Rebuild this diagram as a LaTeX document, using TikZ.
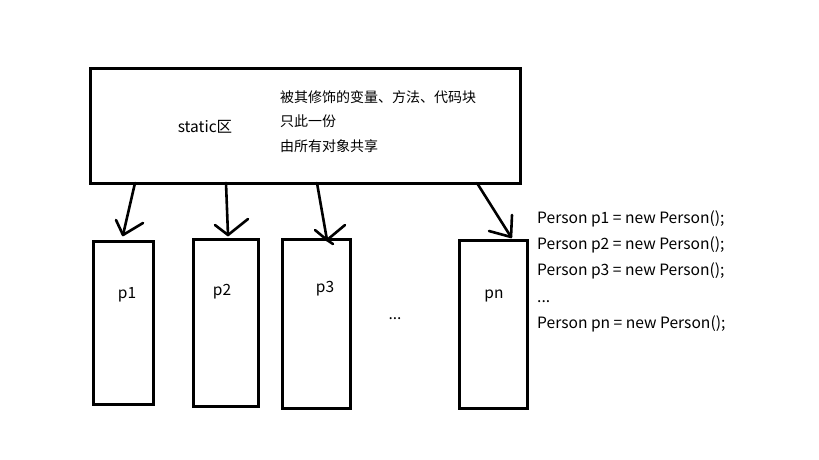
\documentclass[tikz,border=0pt]{standalone}
\usepackage{fontspec}
\setmainfont{Noto Sans CJK SC}
\begin{document}
\begin{tikzpicture}[x=1pt,y=-1pt,
  box/.style={draw=black,line width=3pt,inner sep=0pt,outer sep=0pt},
  conn/.style={line width=2.6pt,line cap=round,line join=round},
  lbl/.style={inner sep=0pt,font=\fontsize{14}{16}\selectfont},
  big/.style={inner sep=0pt,font=\fontsize{15.5}{17}\selectfont},
  code/.style={inner sep=0pt,anchor=base west,font=\fontsize{15.6}{17}\selectfont}]
\useasboundingbox (0,0) rectangle (819,460);
\fill[white] (0,0) rectangle (819,460);

% static area
\node[box,minimum width=430pt,minimum height=114pt] (static) at (305,126) {};
\node[big] (slabel) at (205,127) {static区};
\node[lbl,anchor=west] (n1) at (280,97) {被其修饰的变量、方法、代码块};
\node[lbl,anchor=west] (n2) at (280,121) {只此一份};
\node[lbl,anchor=west] (n3) at (280,146) {由所有对象共享};

% objects
\node[box,minimum width=60pt,minimum height=163pt] (p1) at (123,322.5) {};
\node[box,minimum width=65pt,minimum height=167pt] (p2) at (226,323) {};
\node[box,minimum width=68pt,minimum height=169pt] (p3) at (316.3,324) {};
\node[box,minimum width=68pt,minimum height=168pt] (pn) at (493,324.3) {};
\node[big] (l1) at (127,295) {p1};
\node[big] (l2) at (222,292) {p2};
\node[big] (l3) at (325,289) {p3};
\node[big] (ln) at (494,296) {pn};
\node[big,anchor=base] (dots) at (395,319) {...};

% references from the static area
\coordinate (s1) at (135,183);
\coordinate (s2) at (226,183);
\coordinate (s3) at (317,183);
\coordinate (s4) at (477,183);
\coordinate (t1) at (123,235);
\coordinate (t2) at (228,235);
\coordinate (t3) at (327,240);
\coordinate (t4) at (511,237);
\draw[conn] (s1) -- (t1);
\draw[conn] (116,220) -- (t1) -- (143,223);
\draw[conn] (s2) -- (t2);
\draw[conn] (215,225) -- (t2) -- (248,219);
\draw[conn] (s3) -- (t3) -- (333,244);
\draw[conn] (315,230) -- (t3) -- (345,225);
\draw[conn] (s4) -- (t4);
\draw[conn] (489,231) -- (t4) -- (512,215);

% declarations
\node[code] (c1) at (537,223.5) {Person p1 = new Person();};
\node[code] (c2) at (537,249.5) {Person p2 = new Person();};
\node[code] (c3) at (537,275.5) {Person p3 = new Person();};
\node[code] (c4) at (537,302) {...};
\node[code] (c5) at (537,328.5) {Person pn = new Person();};
\end{tikzpicture}
\end{document}
